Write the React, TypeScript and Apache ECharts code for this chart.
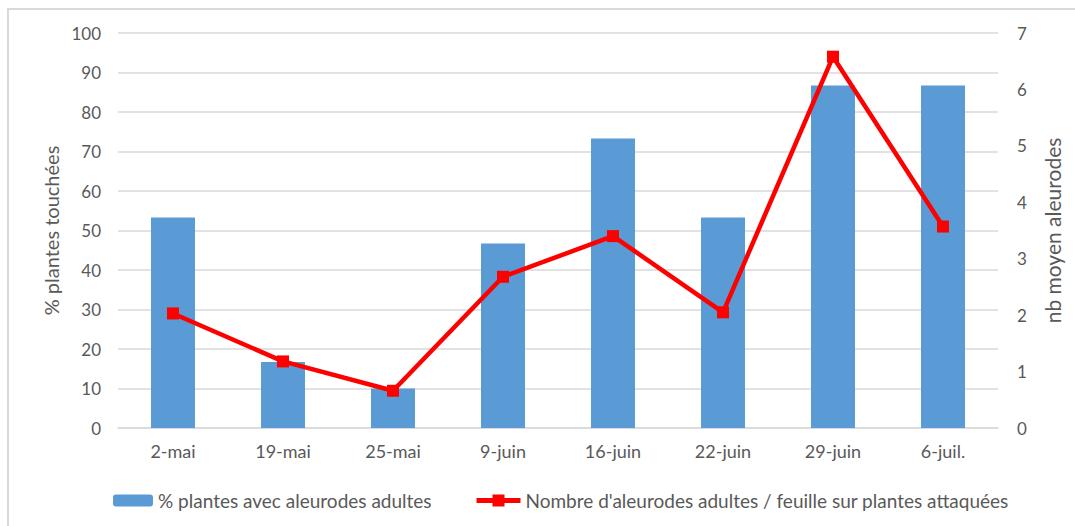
import React, { useEffect, useRef } from "react";
import * as echarts from "echarts";

const categories = ["2-mai", "19-mai", "25-mai", "9-juin", "16-juin", "22-juin", "29-juin", "6-juil."];
const pctPlants = [53.3, 16.7, 10, 46.7, 73.3, 53.3, 86.7, 86.7];
const nbAdults = [2.03, 1.18, 0.66, 2.68, 3.4, 2.05, 6.58, 3.57];
const barName = "% plantes avec aleurodes adultes";
const lineName = "Nombre d'aleurodes adultes / feuille sur plantes attaquées";

export default function App() {
  const ref = useRef<HTMLDivElement>(null);
  useEffect(() => {
    if (!ref.current) return;
    const chart = echarts.init(ref.current, null, { renderer: "svg" });
    const font = "Lato, 'Open Sans', sans-serif";
    const gray = "#595959";
    chart.setOption({
      animation: false,
      textStyle: { fontFamily: font },
      graphic: [
        {
          type: "rect",
          shape: { x: 8, y: 9, width: 1100, height: 600 },
          style: { fill: "none", stroke: "#d9d9d9", lineWidth: 2 },
          silent: true,
        },
      ],
      grid: { left: 118, right: 77, top: 33, bottom: 98 },
      legend: [
        {
          data: [barName],
          left: 108,
          top: 486,
          itemWidth: 40,
          itemHeight: 12,
          textStyle: { color: gray, fontSize: 19, fontFamily: font },
        },
        {
          data: [{ name: lineName, lineStyle: { width: 5 } }],
          left: 469,
          top: 486,
          itemWidth: 44,
          itemHeight: 15,
          textStyle: { color: gray, fontSize: 19, fontFamily: font },
        },
      ],
      xAxis: {
        type: "category",
        data: categories,
        axisLine: { lineStyle: { color: "#d9d9d9", width: 1.5 } },
        axisTick: { show: false },
        axisLabel: { color: gray, fontSize: 18, margin: 14, fontFamily: font },
      },
      yAxis: [
        {
          type: "value",
          min: 0,
          max: 100,
          interval: 10,
          name: "% plantes touchées",
          nameLocation: "middle",
          nameRotate: 90,
          nameGap: 56,
          nameTextStyle: { color: gray, fontSize: 20, fontFamily: font },
          axisLine: { show: false },
          axisTick: { show: false },
          axisLabel: { color: gray, fontSize: 17, margin: 17, fontFamily: font },
          splitLine: { lineStyle: { color: "#d9d9d9", width: 1.5 } },
        },
        {
          type: "value",
          min: 0,
          max: 7,
          interval: 1,
          name: "nb moyen aleurodes",
          nameLocation: "middle",
          nameRotate: 90,
          nameGap: 44,
          nameTextStyle: { color: gray, fontSize: 21, fontFamily: font },
          axisLine: { show: false },
          axisTick: { show: false },
          axisLabel: { color: gray, fontSize: 17, margin: 19, fontFamily: font },
          splitLine: { show: false },
        },
      ],
      series: [
        {
          name: barName,
          type: "bar",
          data: pctPlants,
          barWidth: "40%",
          itemStyle: { color: "#5B9BD5" },
        },
        {
          name: lineName,
          type: "line",
          yAxisIndex: 1,
          data: nbAdults,
          symbol: "rect",
          symbolSize: 12,
          lineStyle: { color: "#FF0000", width: 4.5 },
          itemStyle: { color: "#FF0000" },
        },
      ],
    });
    return () => chart.dispose();
  }, []);
  return (
    <div
      ref={ref}
      style={{ position: "absolute", left: 0, top: 0, width: 1075, height: 526, background: "#fff" }}
    />
  );
}
